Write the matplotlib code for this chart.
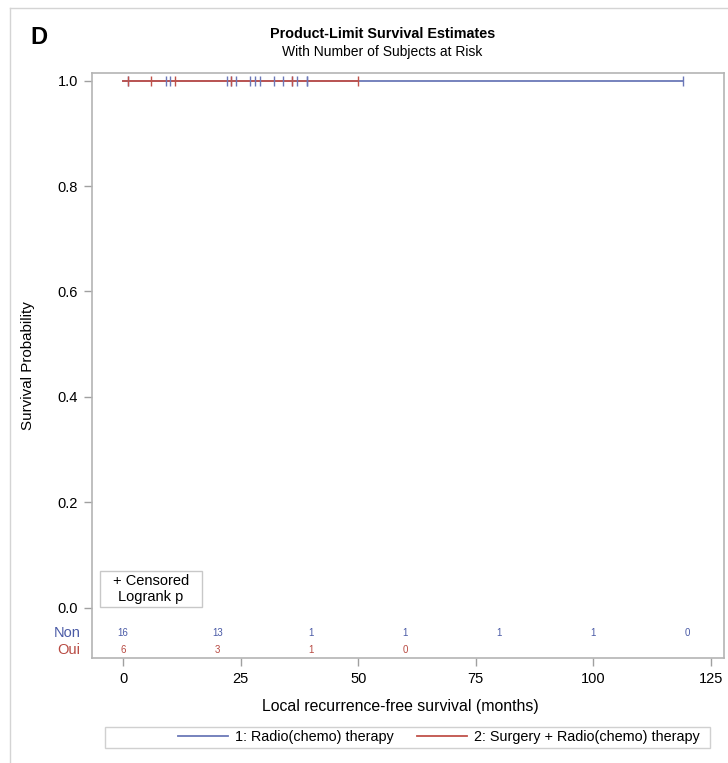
import matplotlib
matplotlib.use("Agg")
import matplotlib.pyplot as plt
from matplotlib.lines import Line2D
from matplotlib.patches import Rectangle
import numpy as np

plt.rcParams['font.family'] = ['Liberation Sans', 'DejaVu Sans']

# ---- data ----
group_names = ["Non", "Oui"]
legend_labels = ["1: Radio(chemo) therapy", "2: Surgery + Radio(chemo) therapy"]
# censored follow-up times (months), no events observed
times_non = [1, 9, 10, 22, 23, 24, 27, 28, 29, 32, 34, 36, 37, 39, 39, 119]
events_non = [0] * len(times_non)
times_oui = [1, 6, 11, 23, 36, 50]
events_oui = [0] * len(times_oui)
risk_times_non = [0, 20, 40, 60, 80, 100, 120]
risk_times_oui = [0, 20, 40, 60]
xticks = [0, 25, 50, 75, 100, 125]
yticks = [0.0, 0.2, 0.4, 0.6, 0.8, 1.0]

col_line = ["#6b78b8", "#c0524a"]
col_text = ["#4a5aa6", "#b84a42"]


def km(times, events):
    t = np.array(times, float)
    e = np.array(events, int)
    order = np.argsort(t)
    t, e = t[order], e[order]
    xs, ys = [0.0], [1.0]
    s = 1.0
    for ut in np.unique(t):
        n = np.sum(t >= ut)
        d = np.sum((t == ut) & (e == 1))
        if d > 0:
            xs.append(ut); ys.append(s)
            s *= (1 - d / n)
        xs.append(ut); ys.append(s)
    return np.array(xs), np.array(ys)


def surv_at(xs, ys, tt):
    idx = np.searchsorted(xs, tt, side='right') - 1
    return ys[max(idx, 0)]


W, H = 728, 763
fig = plt.figure(figsize=(W / 100, H / 100), dpi=100)
ax = fig.add_axes([91.7 / W, 1 - 658 / H, (724 - 91.7) / W, (658 - 72.7) / H])

ax.set_xlim(-6.7, 127.8)
ax.set_ylim(-0.0955, 1.0152)

groups = [(times_non, events_non), (times_oui, events_oui)]
curves = []
for i, (t, e) in enumerate(groups):
    xs, ys = km(t, e)
    xend = max(t)
    xs = np.append(xs, xend); ys = np.append(ys, ys[-1])
    curves.append((xs, ys))
    ax.step(xs, ys, where='post', color=col_line[i], lw=1.3, zorder=3 + i)

for i, (t, e) in enumerate(groups):
    xs, ys = curves[i]
    ct = [tt for tt, ee in zip(t, e) if ee == 0]
    cy = [surv_at(xs, ys, tt) for tt in ct]
    ax.plot(ct, cy, ls='none', marker='|', ms=7, mew=1.0, color=col_line[i], zorder=6)

# at-risk table inside axes
risk_y = [-0.0474, -0.0803]
for i, (t, rt) in enumerate(zip([times_non, times_oui], [risk_times_non, risk_times_oui])):
    tarr = np.array(t)
    for r in rt:
        n = int(np.sum(tarr >= r))
        ax.text(r, risk_y[i], str(n), color=col_text[i], fontsize=7,
                ha='center', va='center')
    ax.text(-0.018, risk_y[i], group_names[i], transform=ax.get_yaxis_transform(),
            color=col_text[i], fontsize=10.5, ha='right', va='center')

# censor / logrank box
ax.add_patch(Rectangle((-4.95, 0.0019), 21.65, 0.068, facecolor='white',
                       edgecolor='#c8c8c8', lw=1.0, zorder=7))
ax.text(5.9, 0.0515, "+ Censored", fontsize=10.5, ha='center', va='center', zorder=8)
ax.text(5.9, 0.0198, "Logrank p", fontsize=10.5, ha='center', va='center', zorder=8)

ax.set_xticks(xticks)
ax.set_yticks(yticks)
ax.set_yticklabels([f"{v:.1f}" for v in yticks])
for s in ax.spines.values():
    s.set_color('#b4b4b4')
    s.set_linewidth(1.2)
ax.tick_params(axis='both', colors='#a0a0a0', labelcolor='black', labelsize=10.5,
               length=6, width=1.0)
ax.tick_params(axis='y', pad=4)
ax.tick_params(axis='x', pad=4)

ax.set_ylabel("Survival Probability", fontsize=10.9)
ax.yaxis.set_label_coords((35 - 91.7) / (724 - 91.7), 0.5)
ax.set_xlabel("Local recurrence-free survival (months)", fontsize=11.4)
ax.xaxis.set_label_coords((400 - 91.7) / (724 - 91.7), -(706 - 658) / (658 - 72.7))
ax.xaxis.label.set_va('center')

# titles
fig.text(383 / W, 1 - 34 / H, "Product-Limit Survival Estimates", fontsize=10.4,
         fontweight='bold', ha='center', va='center')
fig.text(382 / W, 1 - 52 / H, "With Number of Subjects at Risk", fontsize=10,
         ha='center', va='center')
fig.text(30 / W, 1 - 37 / H, "D", fontsize=17, fontweight='bold', ha='left', va='center')

# figure frame lines
fig.add_artist(Line2D([10 / W, 10 / W], [0, 1 - 8 / H], transform=fig.transFigure,
                      color='#d4d4d4', lw=1.0))
fig.add_artist(Line2D([10 / W, 1], [1 - 8 / H, 1 - 8 / H], transform=fig.transFigure,
                      color='#d4d4d4', lw=1.0))

# bottom legend
fig.add_artist(Rectangle((105 / W, 1 - 748 / H), (710 - 105) / W, 21 / H,
                         transform=fig.transFigure, facecolor='white',
                         edgecolor='#d0d0d0', lw=1.0))
handles = [Line2D([], [], color=col_line[0], lw=1.3), Line2D([], [], color=col_line[1], lw=1.3)]
fig.legend(handles, legend_labels, ncol=2, loc='center right',
           bbox_to_anchor=(708 / W, 1 - 737.5 / H), frameon=False, fontsize=10.4,
           handlelength=3.5, handletextpad=0.45, columnspacing=1.6, borderpad=0.1)

fig.savefig("out.png", dpi=100)
